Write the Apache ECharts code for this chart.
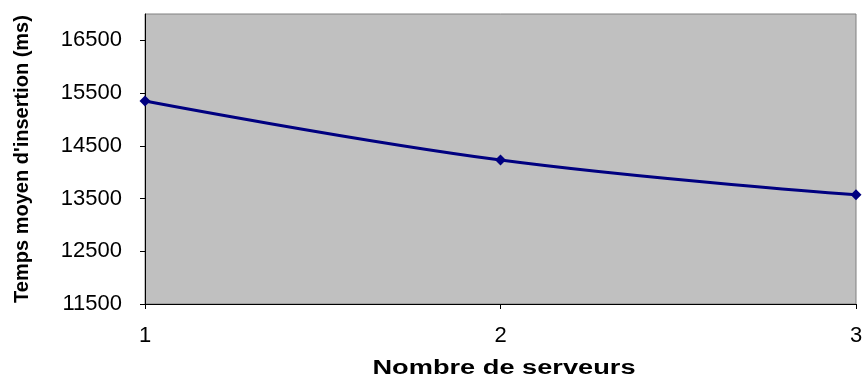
<!DOCTYPE html>
<html><head><meta charset="utf-8">
<script src="https://cdn.jsdelivr.net/npm/echarts@6/dist/echarts.min.js"></script>
<style>html,body{margin:0;padding:0;background:#fff}#c{width:863px;height:385px}</style>
</head><body><div id="c"></div>
<script>
const servers = [1, 2, 3];
const avgTimes = [15350, 14230, 13570];
const yTicks = [11500, 12500, 13500, 14500, 15500, 16500];
const xTitle = 'Nombre de serveurs';
const yTitle = "Temps moyen d'insertion (ms)";

const chart = echarts.init(document.getElementById('c'), null, {renderer: 'canvas'});
chart.setOption({
  animation: false,
  backgroundColor: '#ffffff',
  grid: {left: 145, right: 7, top: 14, bottom: 81, containLabel: false, outerBoundsMode: 'none', show: true, backgroundColor: '#c0c0c0', borderColor: '#808080', borderWidth: 1},
  xAxis: {
    type: 'value', min: 1, max: 3, interval: 1,
    axisLine: {show: true, lineStyle: {color: '#000', width: 1}},
    axisTick: {show: true, length: 5, lineStyle: {color: '#000'}},
    axisLabel: {fontFamily: 'Liberation Sans', fontSize: 22, color: '#000', margin: 21, formatter: v => String(v)},
    splitLine: {show: false}
  },
  yAxis: {
    type: 'value', min: yTicks[0], max: 17000, interval: 1000,
    name: yTitle, nameLocation: 'middle', nameGap: 113, nameRotate: 90,
    nameTextStyle: {fontFamily: 'Liberation Sans', fontWeight: 'bold', fontSize: 20, color: '#000'},
    axisLine: {show: true, lineStyle: {color: '#000', width: 1}},
    axisTick: {show: true, length: 5, lineStyle: {color: '#000'}},
    axisLabel: {fontFamily: 'Liberation Sans', fontSize: 22, color: '#000', margin: 23, showMaxLabel: false, formatter: v => String(v)},
    splitLine: {show: false}
  },
  graphic: [{
    type: 'text', x: 504, y: 368, scaleX: 1.36, scaleY: 1, silent: true,
    style: {text: xTitle, fontFamily: 'Liberation Sans', fontWeight: 'bold', fontSize: 20, fill: '#000', align: 'center', verticalAlign: 'middle'}
  }],
  series: [{
    type: 'line',
    data: servers.map((s, i) => [s, avgTimes[i]]),
    smooth: 0.4,
    symbol: 'diamond', symbolSize: 11,
    lineStyle: {color: '#000080', width: 3},
    itemStyle: {color: '#000080'}
  }]
});
</script></body></html>
